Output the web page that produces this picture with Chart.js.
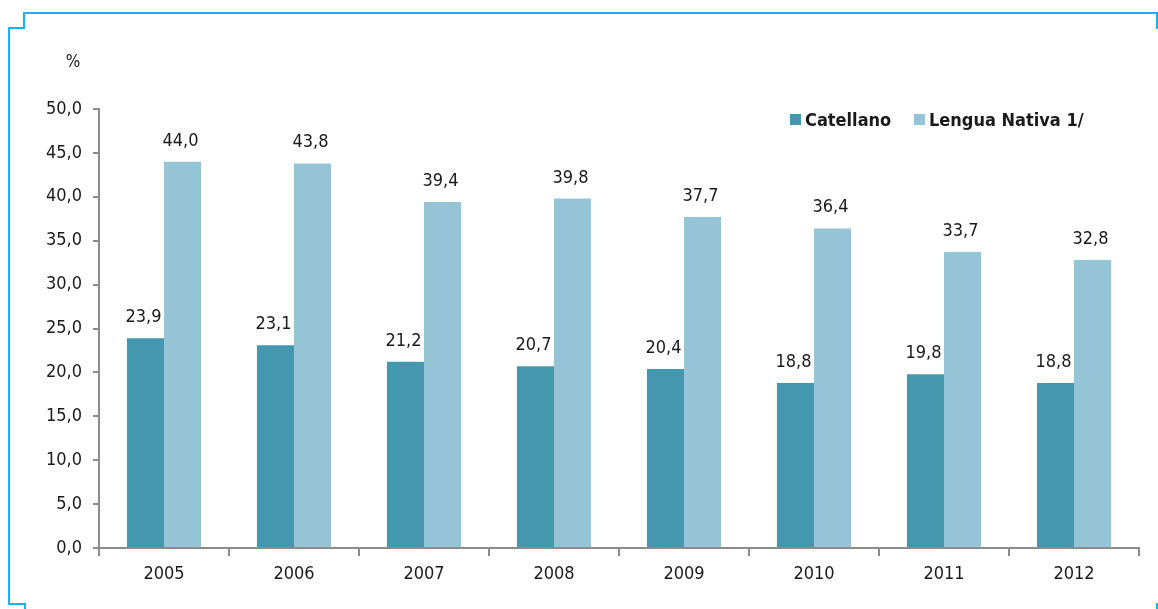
<!DOCTYPE html>
<html>
<head>
<meta charset="utf-8">
<script src="https://cdn.jsdelivr.net/npm/chart.js@4"></script>
<style>
  html, body { margin: 0; padding: 0; background: #fff; }
  #wrap { position: relative; width: 1158px; height: 609px; }
</style>
</head>
<body>
<div id="wrap"><canvas id="chart" width="1158" height="609"></canvas></div>
<script>
// chart data
var years = ['2005', '2006', '2007', '2008', '2009', '2010', '2011', '2012'];
var castellano = [23.9, 23.1, 21.2, 20.7, 20.4, 18.8, 19.8, 18.8];
var lenguaNativa = [44.0, 43.8, 39.4, 39.8, 37.7, 36.4, 33.7, 32.8];
var seriesNames = ['Catellano', 'Lengua Nativa 1/'];

var FONT = "'Liberation Sans Narrow', 'DejaVu Sans Condensed', 'Liberation Sans', sans-serif";

function fmt(v) {
    return v.toFixed(1).replace('.', ',');
}

// labels above the bars
var valueLabels = {
    id: 'valueLabels',
    afterDatasetsDraw: function (chart) {
        var ctx = chart.ctx;
        ctx.save();
        ctx.font = '18px ' + FONT;
        ctx.fillStyle = '#1a1a1a';
        ctx.textAlign = 'center';
        ctx.textBaseline = 'alphabetic';
        chart.data.datasets.forEach(function (ds, i) {
            chart.getDatasetMeta(i).data.forEach(function (bar, j) {
                ctx.fillText(fmt(ds.data[j]), bar.x - 2, bar.y - 16);
            });
        });
        ctx.restore();
    }
};

// legend inside the plot, frame and "%" label
var legendX = [790, 914];
var extras = {
    id: 'extras',
    afterDraw: function (chart) {
        var ctx = chart.ctx;
        ctx.save();
        // legend
        ctx.font = 'bold 18px ' + FONT;
        ctx.textBaseline = 'middle';
        var y = 120;
        chart.data.datasets.forEach(function (ds, i) {
            var x = legendX[i];
            ctx.fillStyle = ds.backgroundColor;
            ctx.fillRect(x, y - 6, 11, 11);
            ctx.fillStyle = '#1a1a1a';
            ctx.fillText(ds.label, x + 15, y + 1);
        });
        // "%"
        ctx.font = '17px ' + FONT;
        ctx.fillStyle = '#1a1a1a';
        ctx.textAlign = 'center';
        ctx.fillText('%', 73, 63);
        // blue frame
        ctx.strokeStyle = '#1ab2ec';
        ctx.lineWidth = 2;
        ctx.beginPath();
        ctx.moveTo(1157, 29);
        ctx.lineTo(1157, 13);
        ctx.lineTo(24, 13);
        ctx.lineTo(24, 28);
        ctx.lineTo(9, 28);
        ctx.lineTo(9, 604);
        ctx.lineTo(25, 604);
        ctx.lineTo(25, 612);
        ctx.stroke();
        ctx.beginPath();
        ctx.moveTo(1157, 603);
        ctx.lineTo(1157, 612);
        ctx.stroke();
        ctx.restore();
    }
};

var ctx = document.getElementById('chart').getContext('2d');
var myChart = new Chart(ctx, {
    type: 'bar',
    data: {
        labels: years,
        datasets: [{
            label: seriesNames[0],
            data: castellano,
            backgroundColor: '#4398b0'
        }, {
            label: seriesNames[1],
            data: lenguaNativa,
            backgroundColor: '#95c4d6'
        }]
    },
    options: {
        responsive: false,
        animation: false,
        datasets: { bar: { categoryPercentage: 0.57, barPercentage: 1 } },
        layout: { padding: { top: 109, right: 19, bottom: 0, left: 0 } },
        plugins: { legend: { display: false }, tooltip: { enabled: false } },
        scales: {
            x: {
                grid: { display: true, drawOnChartArea: false, offset: true, tickLength: 8, color: '#8c8c8c', lineWidth: 2 },
                border: { color: '#8c8c8c', width: 2 },
                ticks: { font: { family: FONT, size: 18 }, color: '#1a1a1a', padding: 8 },
                afterFit: function (scale) { scale.height = 61; }
            },
            y: {
                min: 0,
                max: 50,
                ticks: {
                    stepSize: 5,
                    font: { family: FONT, size: 18 },
                    color: '#1a1a1a',
                    padding: 11,
                    callback: function (v) { return fmt(v); }
                },
                grid: { display: true, drawOnChartArea: false, tickLength: 6, color: '#8c8c8c', lineWidth: 2 },
                border: { color: '#8c8c8c', width: 2 },
                afterFit: function (scale) { scale.width = 99; }
            }
        }
    },
    plugins: [valueLabels, extras]
});
</script>
</body>
</html>
